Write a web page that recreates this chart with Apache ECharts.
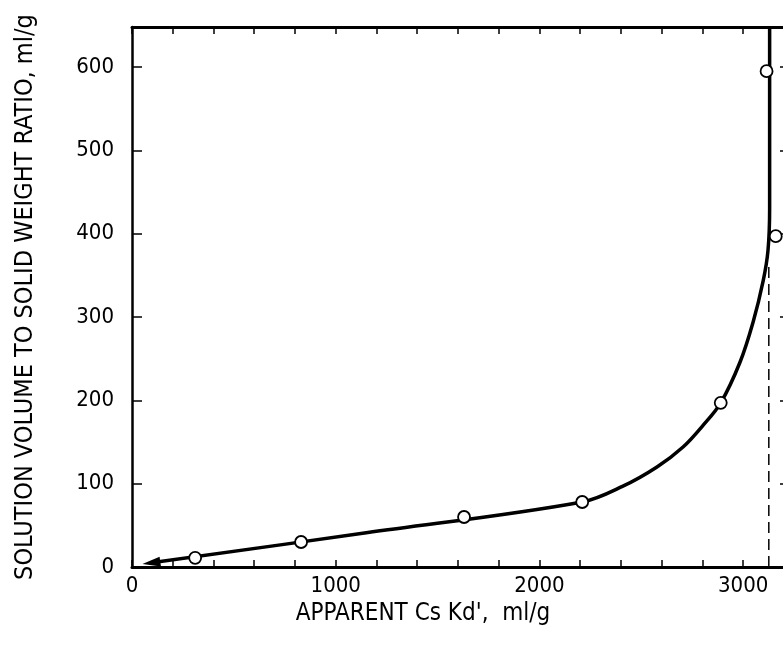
<!DOCTYPE html>
<html>
<head>
    <meta charset="utf-8">
    <title>Apparent Cs Kd'</title>
    <script src="https://cdn.jsdelivr.net/npm/echarts@6/dist/echarts.min.js"></script>
    <style>
        html, body {
            margin: 0;
            padding: 0;
            background: #ffffff;
        }
        #chart {
            width: 783px;
            height: 661px;
        }
    </style>
</head>
<body>
    <div id="chart"></div>
    <script type="text/javascript">
        // measured points (open circles)
        const kdValues = [310, 830, 1630, 2210, 2890, 3160, 3115];
        const ratioValues = [11, 30, 60, 78, 197, 397, 595];

        // fitted curve
        const curveKd = [95, 1150, 2210, 2410, 2577, 2705, 2803, 2890, 2985, 3049, 3098, 3122, 3130, 3130];
        const curveRatio = [5, 41, 78, 97, 120, 144, 170, 197, 246, 294, 343, 380, 430, 648];

        // dashed asymptote
        const asymKd = [3126, 3126];
        const asymRatio = [0, 365];

        const xTickLabels = [0, 1000, 2000, 3000];
        const yTickLabels = [0, 100, 200, 300, 400, 500, 600];

        const FONT = '"Liberation Sans Narrow", "DejaVu Sans Condensed", sans-serif';

        const zip = (a, b) => a.map((v, i) => [v, b[i]]);

        const curveData = zip(curveKd, curveRatio).map((p, i) => {
            if (i === 0) {
                return { value: p, symbol: 'triangle', symbolSize: [10, 18], symbolRotate: 98 };
            }
            return { value: p, symbol: 'none' };
        });

        const frameLine = w => ({ onZero: false, lineStyle: { color: '#000', width: w } });
        const inTick = len => ({ inside: true, length: len, lineStyle: { color: '#000', width: 1.5 } });

        const chart = echarts.init(document.getElementById('chart'));
        const option = {
            backgroundColor: '#ffffff',
            animation: false,
            grid: {
                left: 132,
                top: 27,
                width: 658,
                height: 540,
                outerBoundsMode: 'none'
            },
            xAxis: [{
                type: 'value',
                min: 0,
                max: 3230,
                interval: 200,
                position: 'bottom',
                name: "APPARENT Cs Kd',  ml/g",
                nameLocation: 'middle',
                nameGap: 35,
                nameTextStyle: {
                    color: '#000',
                    fontFamily: FONT,
                    fontSize: 24,
                    padding: [0, 76, 0, 0]
                },
                axisLine: frameLine(3),
                axisTick: inTick(7),
                axisLabel: {
                    color: '#000',
                    fontFamily: FONT,
                    fontSize: 22,
                    margin: 8,
                    showMaxLabel: false,
                    formatter: v => xTickLabels.includes(v) ? String(v) : ''
                },
                splitLine: { show: false }
            }, {
                type: 'value',
                min: 0,
                max: 3230,
                interval: 200,
                position: 'top',
                axisLine: frameLine(3),
                axisTick: inTick(7),
                axisLabel: { show: false },
                splitLine: { show: false }
            }],
            yAxis: [{
                type: 'value',
                min: 0,
                max: 648,
                interval: 100,
                position: 'left',
                name: 'SOLUTION VOLUME TO SOLID WEIGHT RATIO, ml/g',
                nameLocation: 'middle',
                nameGap: 94,
                nameTextStyle: {
                    color: '#000',
                    fontFamily: FONT,
                    fontSize: 25
                },
                axisLine: frameLine(2.5),
                axisTick: inTick(10),
                axisLabel: {
                    color: '#000',
                    fontFamily: FONT,
                    fontSize: 22,
                    margin: 18,
                    showMaxLabel: false,
                    formatter: v => yTickLabels.includes(v) ? String(v) : ''
                },
                splitLine: { show: false }
            }, {
                type: 'value',
                min: 0,
                max: 648,
                interval: 100,
                position: 'right',
                axisLine: frameLine(2.5),
                axisTick: inTick(10),
                axisLabel: { show: false },
                splitLine: { show: false }
            }],
            series: [{
                name: 'asymptote',
                type: 'line',
                xAxisIndex: 0,
                yAxisIndex: 0,
                data: zip(asymKd, asymRatio),
                symbol: 'none',
                lineStyle: { color: '#000', width: 1.5, type: [11, 6] },
                silent: true
            }, {
                name: 'curve',
                type: 'line',
                xAxisIndex: 0,
                yAxisIndex: 0,
                data: curveData,
                smooth: 0.35,
                showSymbol: true,
                itemStyle: { color: '#000' },
                lineStyle: { color: '#000', width: 3.5 },
                silent: true
            }, {
                name: 'measured',
                type: 'scatter',
                xAxisIndex: 0,
                yAxisIndex: 0,
                data: zip(kdValues, ratioValues),
                symbol: 'circle',
                symbolSize: 12,
                itemStyle: { color: '#ffffff', borderColor: '#000', borderWidth: 1.8, opacity: 1 },
                z: 5
            }]
        };
        chart.setOption(option);
    </script>
</body>
</html>
